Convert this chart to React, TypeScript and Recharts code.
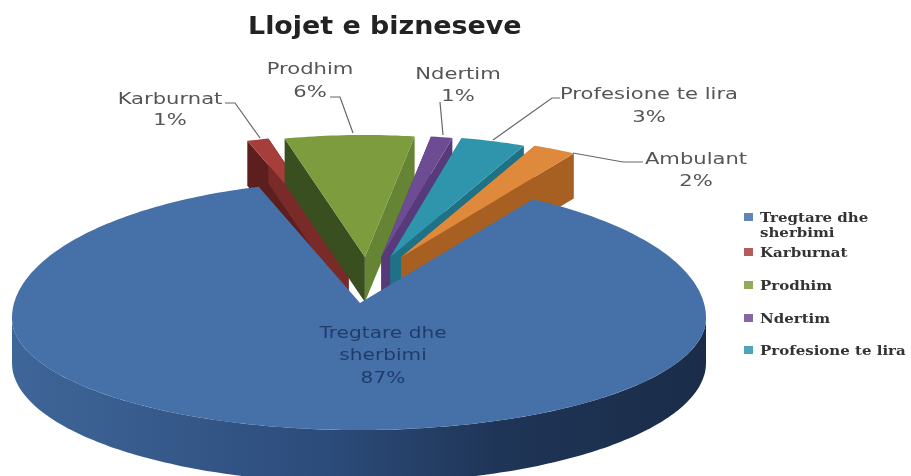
import { PieChart, Pie, Legend } from 'recharts';

const categories = ['Tregtare dhe sherbimi', 'Karburnat', 'Prodhim', 'Ndertim', 'Profesione te lira', 'Ambulant'];
const shares = [87, 1, 6, 1, 3, 2];
const topColors = ['#4570a8', '#a63f3c', '#7c9c3e', '#6e4c93', '#2f95ad', '#de893b'];
const leftWalls = ['#2b4a78', '#5c1f1d', '#394f20', '#4b3169', '#1f7186', '#a85f22'];
const rightWalls = ['#2b4a78', '#7a2a28', '#668534', '#573a7a', '#1f7186', '#a85f22'];
const legendNames = categories.slice(0, 5);

const W = 911;
const H = 476;
const CX = 359;
const CY = 318;
const RADIUS = 347;
const BACK_RATIO = 137 / 347;
const FRONT_RATIO = 112 / 347;
const DEPTH = 45;
const FRONT_EXTRA_DEPTH = 8;
const APEX_Y = 303;
const TEXT_GRAY = '#555555';
const FONT = '"DejaVu Sans", sans-serif';

// label layout: text lines plus the leader line, in chart pixels
const labelLayout = [
  { x: 383, ys: [338, 360, 383], stretch: 1.26, lines: ['Tregtare dhe', 'sherbimi', '87%'], color: '#1f3c6b', leader: '' },
  { x: 170, ys: [104, 125], stretch: 1.32, lines: ['Karburnat', '1%'], color: TEXT_GRAY, leader: '225,103 235,103 260,138' },
  { x: 310, ys: [74, 97], stretch: 1.32, lines: ['Prodhim', '6%'], color: TEXT_GRAY, leader: '330,97 340,97 353,133' },
  { x: 458, ys: [79, 101], stretch: 1.32, lines: ['Ndertim', '1%'], color: TEXT_GRAY, leader: '440,102 443,135' },
  { x: 649, ys: [99, 122], stretch: 1.32, lines: ['Profesione te lira', '3%'], color: TEXT_GRAY, leader: '560,98 552,98 493,140' },
  { x: 696, ys: [164, 186], stretch: 1.32, lines: ['Ambulant', '2%'], color: TEXT_GRAY, leader: '643,162 623,162 573,153' },
];

const legendRows = [
  { top: 210, lines: ['Tregtare dhe', 'sherbimi'] },
  { top: 245, lines: ['Karburnat'] },
  { top: 278, lines: ['Prodhim'] },
  { top: 311, lines: ['Ndertim'] },
  { top: 343, lines: ['Profesione te lira'] },
];

const tableData = categories.map((name, i) => ({
  name,
  value: shares[i],
  fill: topColors[i],
  leftWall: leftWalls[i],
  rightWall: rightWalls[i],
}));

// recharts gives math angles, the picture is easier in degrees clockwise from the top
function rimPoint(clockDeg: number, ox: number, oy: number) {
  const t = (clockDeg * Math.PI) / 180;
  const c = Math.cos(t);
  const ratio = c > 0 ? BACK_RATIO : FRONT_RATIO;
  return [CX + RADIUS * Math.sin(t) + ox, CY - RADIUS * ratio * c + oy];
}

function arc(from: number, to: number, ox: number, oy: number) {
  const steps = Math.max(2, Math.ceil(Math.abs(to - from)));
  const pts = [];
  for (let i = 0; i <= steps; i++) {
    pts.push(rimPoint(from + ((to - from) * i) / steps, ox, oy));
  }
  return pts;
}

// bottom edge of the front wall, a bit deeper towards the viewer
function lowerRim() {
  const pts = [];
  for (let deg = 270; deg >= 90; deg--) {
    const p = rimPoint(deg, 0, 0);
    const extra = FRONT_EXTRA_DEPTH * -Math.cos((deg * Math.PI) / 180);
    pts.push([p[0], p[1] + DEPTH + extra]);
  }
  return pts;
}

function toPath(pts: number[][]) {
  return 'M' + pts.map((p) => `${p[0].toFixed(1)} ${p[1].toFixed(1)}`).join('L') + 'Z';
}

function MainSlice(props: any) {
  if (props.name !== categories[0]) return null;
  const from = 90 - props.startAngle;
  const to = 90 - props.endAngle;
  const front = arc(90, 270, 0, 0);
  const top = [[CX + 1, APEX_Y], ...arc(from, to, 0, 0)];
  return (
    <g>
      <path d={toPath([...front, ...lowerRim()])} fill="url(#rimShade)" />
      <path d={toPath(top)} fill={props.fill} />
    </g>
  );
}

function ExplodedSlice(props: any) {
  if (props.name === categories[0]) return null;
  const from = 90 - props.startAngle;
  const to = 90 - props.endAngle;
  const mid = (((from + to) / 2) * Math.PI) / 180;
  const ox = 8 + 75 * Math.sin(mid);
  const oy = -46;
  const apex = [CX + 1 + ox, APEX_Y + oy];
  const apexLow = [apex[0], apex[1] + DEPTH];
  const a = rimPoint(from, ox, oy);
  const b = rimPoint(to, ox, oy);
  const leftPts = [apex, a, [a[0], a[1] + DEPTH], apexLow];
  const rightPts = [apex, b, [b[0], b[1] + DEPTH], apexLow];
  return (
    <g>
      <path d={toPath(leftPts)} fill={props.leftWall} />
      <path d={toPath(rightPts)} fill={props.rightWall} />
      <path d={toPath([apex, ...arc(from, to, ox, oy)])} fill={props.fill} />
    </g>
  );
}

function sliceLabel(props: any) {
  const item = labelLayout[props.index];
  return (
    <g key={item.lines[0]}>
      {item.leader && <polyline points={item.leader} fill="none" stroke="#666666" strokeWidth={1.2} />}
      {item.lines.map((line, i) => (
        <text
          key={line}
          transform={`translate(${item.x} ${item.ys[i]}) scale(${item.stretch} 1)`}
          textAnchor="middle"
          fill={item.color}
          style={{ fontFamily: FONT, fontSize: 16 }}
        >
          {line}
        </text>
      ))}
    </g>
  );
}

function ChartLegend() {
  return (
    <div>
      {legendRows.map((row, i) => (
        <div key={legendNames[i]} style={{ position: 'absolute', left: 744, top: row.top }}>
          <span
            style={{
              position: 'absolute',
              left: 0,
              top: 3,
              width: 9,
              height: 8,
              background: topColors[i],
              opacity: 0.85,
            }}
          />
          {row.lines.map((line) => (
            <div
              key={line}
              style={{
                marginLeft: 16,
                whiteSpace: 'nowrap',
                fontFamily: '"DejaVu Serif", serif',
                fontWeight: 700,
                fontSize: 12.5,
                lineHeight: '15px',
                color: '#333333',
                transform: 'scaleX(1.2)',
                transformOrigin: 'left',
              }}
            >
              {line}
            </div>
          ))}
        </div>
      ))}
    </div>
  );
}

export default function App() {
  return (
    <div
      style={{
        position: 'absolute',
        left: 0,
        top: 0,
        width: W,
        height: H,
        overflow: 'hidden',
        background: '#fff',
        filter: 'blur(0.6px)',
      }}
    >
      <PieChart width={W} height={H} margin={{ top: 0, right: 0, bottom: 0, left: 0 }}>
        <defs>
          <linearGradient id="rimShade" x1="0" y1="0" x2="1" y2="0">
            <stop offset="0%" stopColor="#3f6699" />
            <stop offset="45%" stopColor="#2c4c7b" />
            <stop offset="70%" stopColor="#1f3557" />
            <stop offset="100%" stopColor="#1a2c48" />
          </linearGradient>
        </defs>
        <Pie
          data={tableData}
          dataKey="value"
          nameKey="name"
          cx={CX}
          cy={CY}
          outerRadius={RADIUS}
          startAngle={60}
          endAngle={-300}
          stroke="none"
          shape={ExplodedSlice}
          isAnimationActive={false}
        />
        <Pie
          data={tableData}
          dataKey="value"
          nameKey="name"
          cx={CX}
          cy={CY}
          outerRadius={RADIUS}
          startAngle={60}
          endAngle={-300}
          stroke="none"
          shape={MainSlice}
          label={sliceLabel}
          labelLine={false}
          legendType="none"
          isAnimationActive={false}
        />
        <Legend content={<ChartLegend />} wrapperStyle={{ position: 'absolute', left: 0, top: 0, width: 0, height: 0 }} />
      </PieChart>
      <div
        style={{
          position: 'absolute',
          left: 248,
          top: 12,
          fontFamily: FONT,
          fontWeight: 700,
          fontSize: 24,
          color: '#222222',
          whiteSpace: 'nowrap',
          transform: 'scaleX(1.12)',
          transformOrigin: 'left',
        }}
      >
        Llojet e bizneseve
      </div>
    </div>
  );
}
